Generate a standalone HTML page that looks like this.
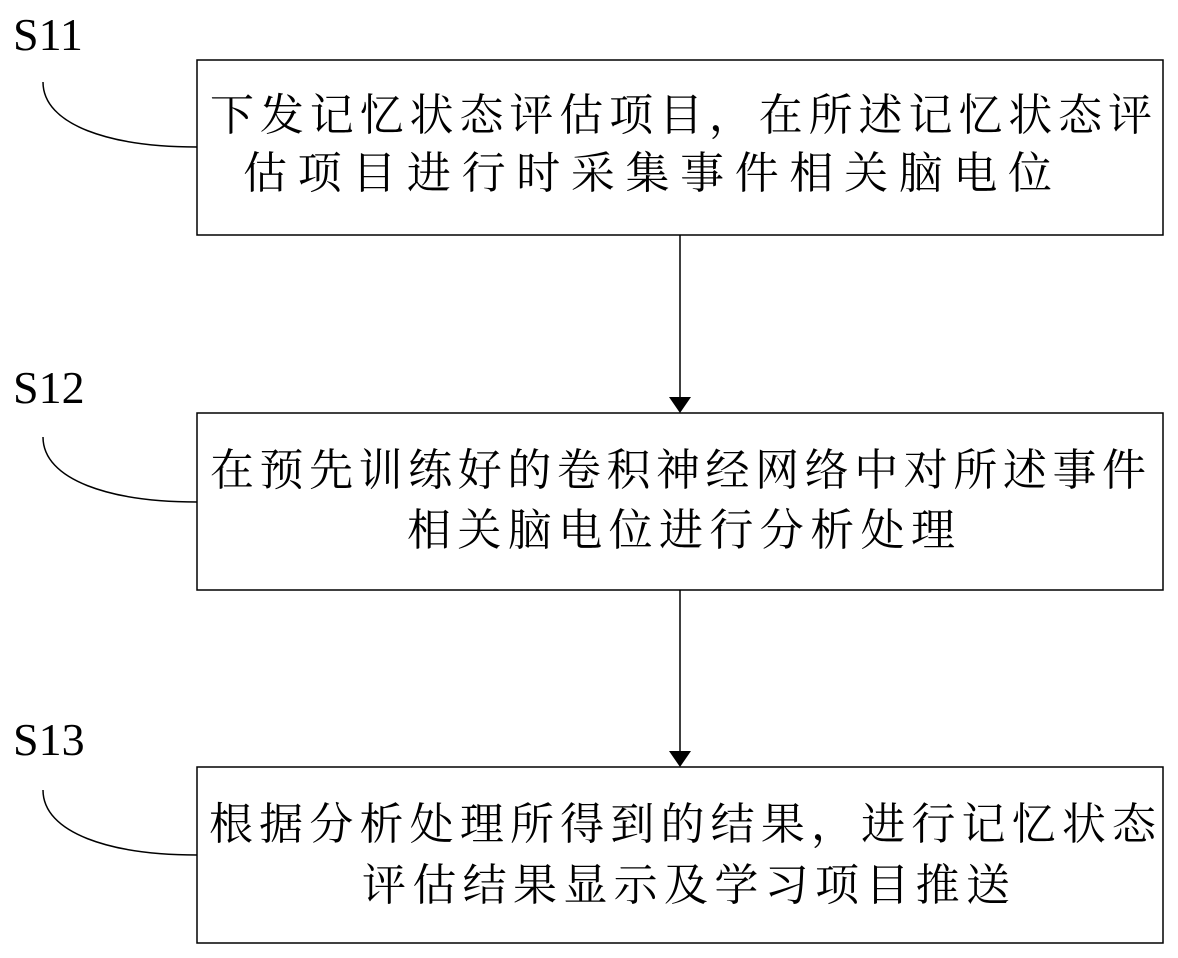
<!DOCTYPE html>
<html><head><meta charset="utf-8"><style>
html,body{margin:0;padding:0;background:#fff;}
svg{display:block;}
.t{font-family:"Liberation Serif","Noto Serif CJK SC",serif;font-size:44px;fill:#000;}
.s{font-family:"Liberation Serif",serif;font-size:46px;fill:#000;}
</style></head><body>
<svg width="1178" height="958" viewBox="0 0 1178 958" xmlns="http://www.w3.org/2000/svg">
<g fill="none" stroke="#000" stroke-width="1.5">
<rect x="197" y="60" width="966" height="175"/>
<rect x="197" y="413" width="966" height="177"/>
<rect x="197" y="767" width="966" height="176"/>
<line x1="680" y1="235" x2="680" y2="398"/>
<line x1="680" y1="590" x2="680" y2="752"/>
<path d="M43,82 C43,125 110,147 197,147"/>
<path d="M43,437 C43,480 110,502 197,502"/>
<path d="M43,790 C43,833 110,855 197,855"/>
</g>
<polygon points="669,397 691,397 680,413" fill="#000"/>
<polygon points="669,751 691,751 680,767" fill="#000"/>
<text class="s" x="13" y="50">S11</text>
<text class="s" x="13" y="403">S12</text>
<text class="s" x="13" y="755">S13</text>
<text class="t" x="210" y="130" textLength="942" lengthAdjust="spacing">下发记忆状态评估项目，在所述记忆状态评</text>
<text class="t" x="243" y="188" textLength="809" lengthAdjust="spacing">估项目进行时采集事件相关脑电位</text>
<text class="t" x="210" y="485" textLength="936" lengthAdjust="spacing">在预先训练好的卷积神经网络中对所述事件</text>
<text class="t" x="407" y="545" textLength="548" lengthAdjust="spacing">相关脑电位进行分析处理</text>
<text class="t" x="209" y="839" textLength="947" lengthAdjust="spacing">根据分析处理所得到的结果，进行记忆状态</text>
<text class="t" x="362" y="900" textLength="648" lengthAdjust="spacing">评估结果显示及学习项目推送</text>
</svg>
</body></html>
